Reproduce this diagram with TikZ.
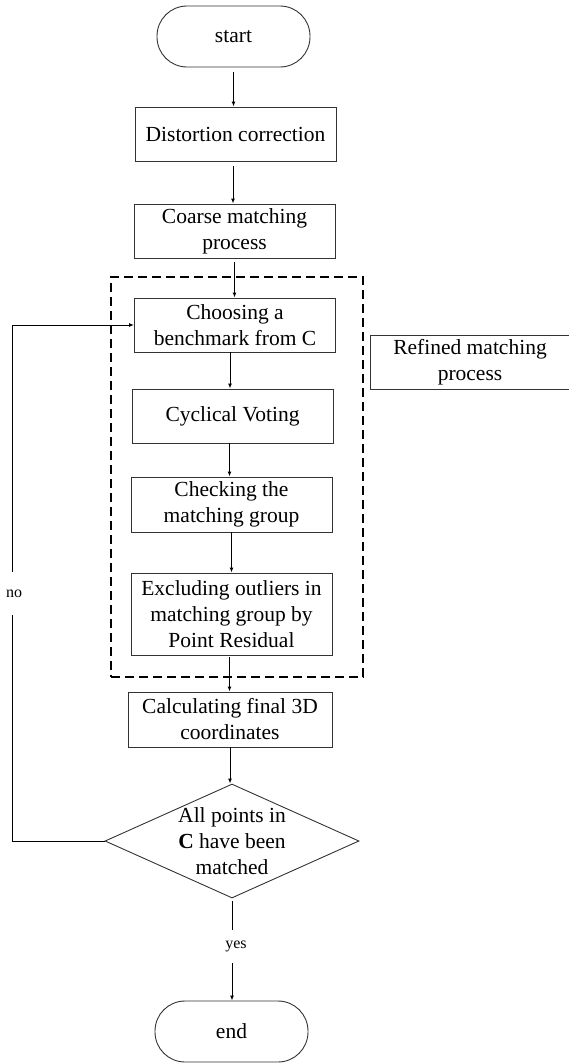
\documentclass[tikz,border=0pt]{standalone}
\usepackage{fontspec}
\setmainfont{Liberation Serif}
\usetikzlibrary{arrows.meta,shapes.geometric}
\begin{document}
\begin{tikzpicture}[x=1pt,y=-1pt,
  txtfont/.style={font=\fontsize{21.5}{26}\selectfont},
  box/.style={draw=black!80, line width=0.9pt, align=center, inner sep=0pt, txtfont},
  term/.style={box, rounded corners=30pt, minimum width=153pt, minimum height=61pt},
  proc/.style={box, minimum width=201pt, minimum height=54pt},
  decision/.style={draw=black!80, line width=0.9pt, diamond, inner sep=0pt, minimum width=254pt, minimum height=114pt},
  dtext/.style={align=center, inner sep=0pt, txtfont},
  groupbox/.style={draw=black, line width=2.6pt, dash pattern=on 9pt off 5pt, minimum width=252pt, minimum height=400pt, inner sep=0pt},
  lbl/.style={font=\fontsize{16}{19}\selectfont, inner sep=0pt},
  arr/.style={line width=1pt, -{Latex[length=5pt,width=4pt]}},
  plain/.style={line width=1pt}
]
\useasboundingbox (0,0) rectangle (568,1063);

\node[groupbox] (grp) at (237,477) {};

\node[term] (start) at (233.5,36.5) {start};
\node[proc] (dist) at (235.5,134) {Distortion correction};
\node[proc] (coarse) at (234.5,231) {Coarse matching\\process};
\node[proc] (choose) at (235,325) {Choosing a\\benchmark from C};
\node[proc] (cyc) at (232.5,416) {Cyclical Voting};
\node[proc, minimum height=55pt] (check) at (231.5,504.5) {Checking the\\matching group};
\node[proc, minimum height=82pt] (excl) at (231.5,614) {Excluding outliers in\\matching group by\\Point Residual};
\node[proc, minimum width=204pt, minimum height=55pt] (calc) at (230,719.5) {Calculating final 3D\\coordinates};
\node[decision] (dec) at (232,841) {};
\node[dtext] (dect) at (dec.center) {All points in\\\textbf{C} have been\\matched};
\node[proc, minimum width=200pt] (refined) at (470,362) {Refined matching\\process};
\node[term] (end) at (231.5,1031.5) {end};

\node[lbl, minimum height=43pt] (no) at (14,593.5) {no};
\node[lbl, minimum height=33pt] (yes) at (236,946.5) {yes};

\coordinate (c1) at (12,841);
\coordinate (c2) at (12,325);

\draw[arr] ([yshift=-5pt]start.south) -- (start.south |- dist.north);
\draw[arr] ([xshift=-2.5pt,yshift=-5pt]dist.south) -- ([xshift=-2.5pt]dist.south |- coarse.north);
\draw[arr] ([yshift=-4pt]coarse.south) -- (coarse.south |- choose.north);
\draw[arr] ([xshift=-5pt]choose.south) -- ([xshift=-5pt]choose.south |- cyc.north);
\draw[arr] ([xshift=-3pt]cyc.south) -- ([xshift=-3pt]cyc.south |- check.north);
\draw[arr] (check.south) -- (check.south |- excl.north);
\draw[arr] ([xshift=-2pt,yshift=-2pt]excl.south) -- ([xshift=-2pt]excl.south |- calc.north);
\draw[arr] (calc.south) -- (calc.south |- dec.north);

\draw[plain] ([yshift=-3pt]dec.south) -- (dec.south |- yes.north);
\draw[arr] (dec.south |- yes.south) -- (dec.south |- end.north);

\draw[plain] (dec.west) -- (c1) -- (c1 |- no.south);
\draw[arr] (c2 |- no.north) -- (c2) -- (choose.west);
\end{tikzpicture}
\end{document}
